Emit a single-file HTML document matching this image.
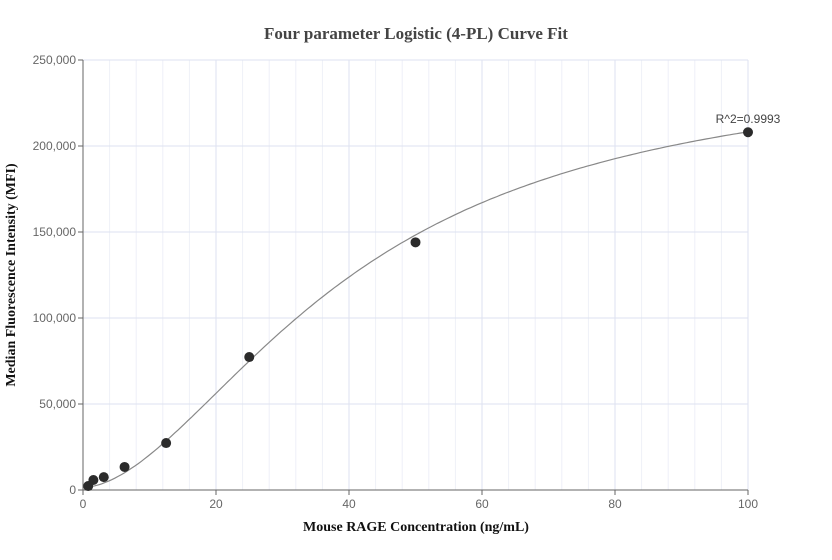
<!DOCTYPE html>
<html><head><meta charset="utf-8"><style>
body{margin:0;background:#fff;}
svg{display:block;}
</style></head><body>
<svg id="chart" width="832" height="560" xmlns="http://www.w3.org/2000/svg">
<text x="416" y="39" text-anchor="middle" font-family="Liberation Serif, serif" font-weight="bold" font-size="17" fill="#444">Four parameter Logistic (4-PL) Curve Fit</text>
<text x="416" y="531" text-anchor="middle" font-family="Liberation Serif, serif" font-weight="bold" font-size="14" fill="#111">Mouse RAGE Concentration (ng/mL)</text>
<text transform="translate(15,275) rotate(-90)" text-anchor="middle" font-family="Liberation Serif, serif" font-weight="bold" font-size="14" fill="#111">Median Fluorescence Intensity (MFI)</text>
<g id="grid"></g><g id="axes"></g><g id="marks"></g>
</svg>
<script>
const concentrations=[0.78,1.5625,3.125,6.25,12.5,25,50,100];
const mfiValues=[2300,5800,7500,13400,27300,77300,144000,208000];
const xTicks=[0,20,40,60,80,100];
const yTicks=[0,50000,100000,150000,200000,250000];
const fitParams=[1500,1.78,40.7,250000]; // a,b,c,d
const rSquaredLabel="R^2=0.9993";
const NS="http://www.w3.org/2000/svg";
const X0=83,X1=748,Y0=490,Y1=60;
const xs=v=>X0+(v-0)/(100-0)*(X1-X0);
const ys=v=>Y0-(v/250000)*(Y0-Y1);
function mk(tag,attrs,parent){const e=document.createElementNS(NS,tag);for(const k in attrs)e.setAttribute(k,attrs[k]);parent.appendChild(e);return e;}
const grid=document.getElementById('grid'),axes=document.getElementById('axes'),marks=document.getElementById('marks');
for(let v=4;v<100;v+=4){if(v%20===0)continue;const l=mk('line',{x1:xs(v),x2:xs(v),y1:Y1,y2:Y0,stroke:'#eef0f8','stroke-width':1},grid);

}
xTicks.forEach(t=>{if(t>0){const l=mk('line',{x1:xs(t),x2:xs(t),y1:Y1,y2:Y0,stroke:'#dde2f0','stroke-width':1},grid);

}
const tk=mk('line',{x1:xs(t),x2:xs(t),y1:Y0,y2:Y0+5,stroke:'#666'},axes);


const tx=mk('text',{x:xs(t),y:Y0+18,'text-anchor':'middle','font-family':'Liberation Sans, sans-serif','font-size':12,fill:'#666'},axes);tx.textContent=t;

});
yTicks.forEach(t=>{if(t>0){const l=mk('line',{x1:X0,x2:X1,y1:ys(t),y2:ys(t),stroke:'#dde2f0'},grid);

}
const tk=mk('line',{x1:X0-5,x2:X0,y1:ys(t),y2:ys(t),stroke:'#666'},axes);


const tx=mk('text',{x:X0-7,y:ys(t)+4,'text-anchor':'end','font-family':'Liberation Sans, sans-serif','font-size':12,fill:'#666'},axes);tx.textContent=t.toLocaleString('en-US');

});
const ax=mk('line',{x1:X0,x2:X0,y1:Y1,y2:Y0,stroke:'#666'},axes);


const axx=mk('line',{x1:X0,x2:X1,y1:Y0,y2:Y0,stroke:'#666'},axes);


const [a,b,c,d]=fitParams;const f=x=>d+(a-d)/(1+Math.pow(x/c,b));
let p='';for(let x=concentrations[0];x<=100.001;x+=0.5){p+=(p?'L':'M')+xs(x).toFixed(1)+','+ys(f(x)).toFixed(1);}
const curve=mk('path',{d:p,fill:'none',stroke:'#888','stroke-width':1.2},marks);


concentrations.forEach((x,i)=>{const ci=mk('circle',{cx:xs(x),cy:ys(mfiValues[i]),r:5,fill:'#2b2b2b'},marks);

});
const n=concentrations.length-1;
const lb=mk('text',{x:xs(concentrations[n]),y:ys(mfiValues[n])-9,'text-anchor':'middle','font-family':'Liberation Sans, sans-serif','font-size':12,fill:'#444'},marks);lb.textContent=rSquaredLabel;


</script>
</body></html>
